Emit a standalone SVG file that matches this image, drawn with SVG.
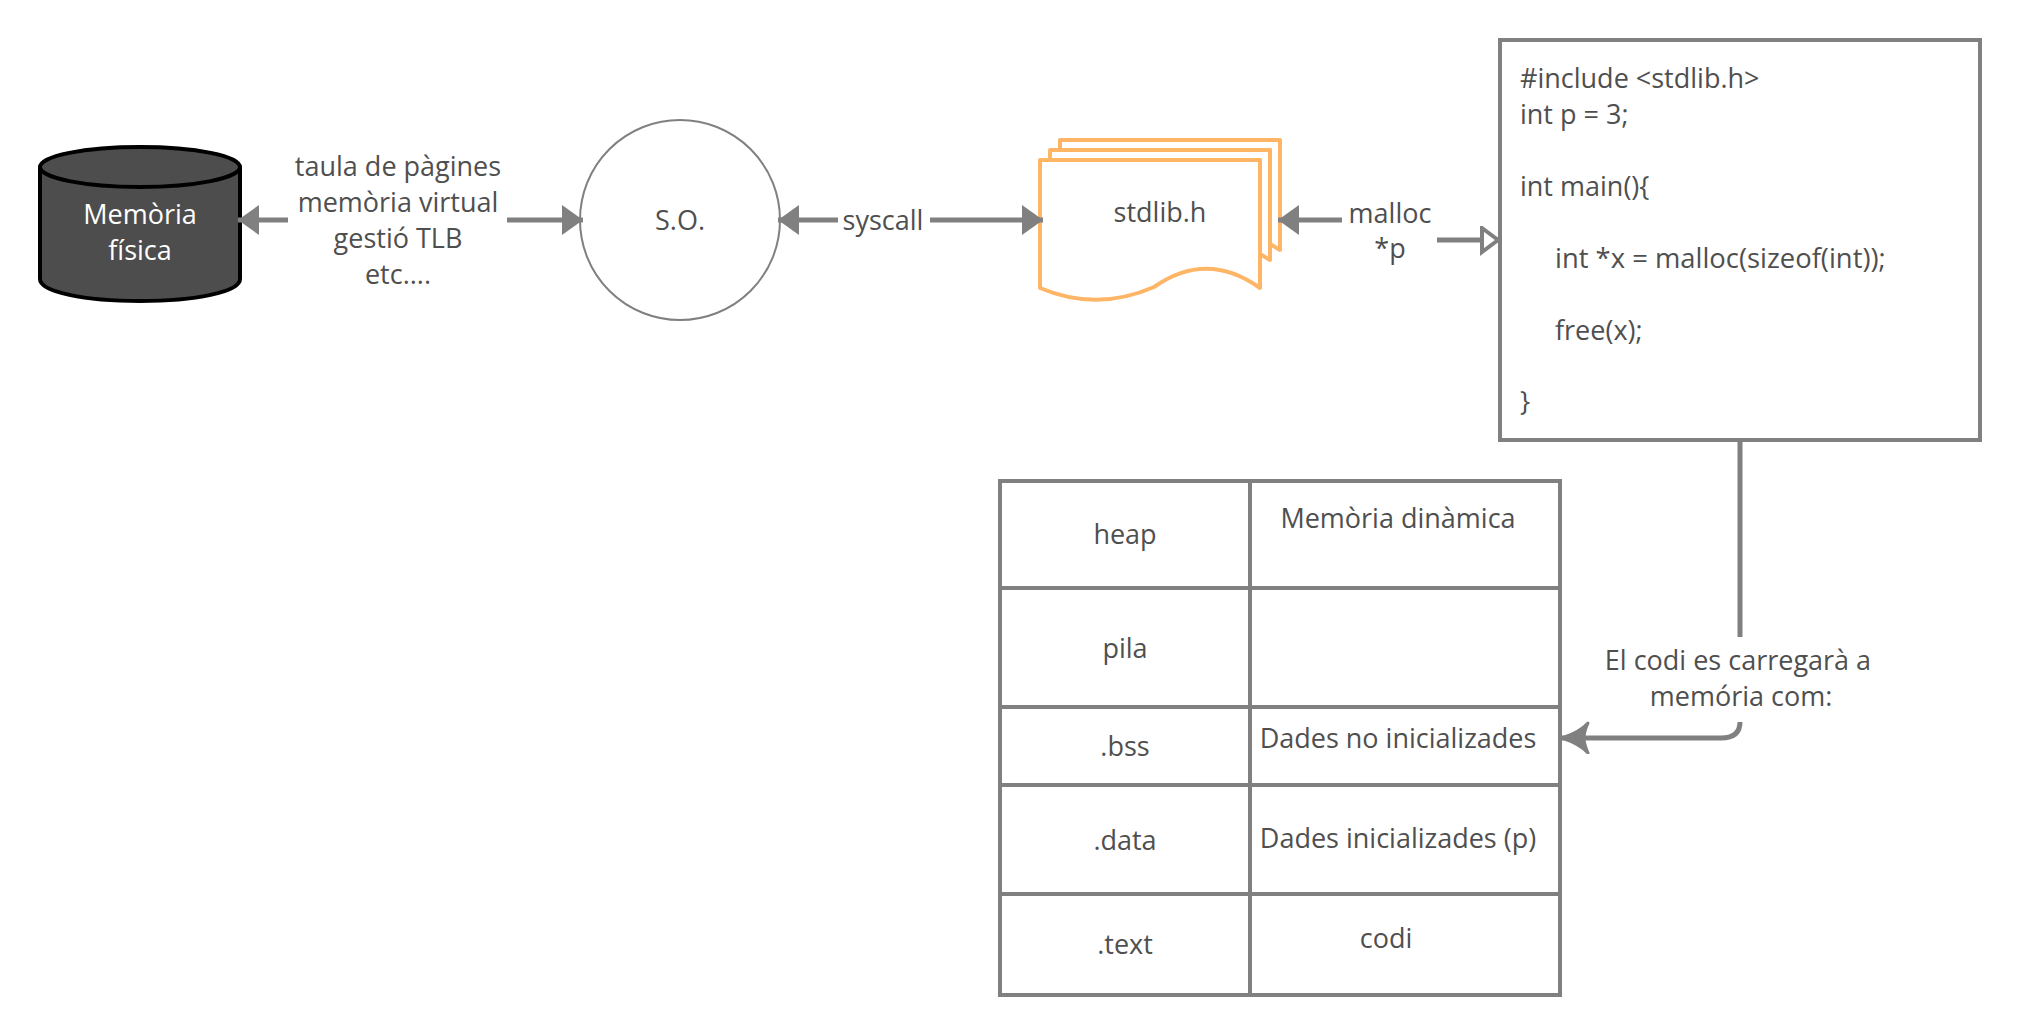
<svg xmlns="http://www.w3.org/2000/svg" width="2021" height="1036" viewBox="0 0 2021 1036">
<style>
text{font-family:"Open Sans","Noto Sans",sans-serif;font-size:27px;fill:#4f4f4f}
.m{text-anchor:middle}
.c{fill:none;stroke:#808080;stroke-width:5}
.b{fill:#fff;stroke:#808080;stroke-width:4}
.d{fill:#fff;stroke:#ffb566;stroke-width:4;stroke-linejoin:round}
</style>
<defs>
<marker id="f" markerUnits="userSpaceOnUse" markerWidth="22" markerHeight="30" refX="21" refY="15" orient="auto-start-reverse"><path d="M0 0L21 15L0 30Z" fill="#808080"/></marker>
<marker id="o" markerUnits="userSpaceOnUse" markerWidth="22" markerHeight="30" refX="20" refY="14" orient="auto"><path d="M2 2L18 14L2 26Z" fill="#fff" stroke="#808080" stroke-width="4"/></marker>
<marker id="v" markerUnits="userSpaceOnUse" markerWidth="30" markerHeight="34" refX="28" refY="16" orient="auto"><path d="M2 1Q10 10 28 16Q10 22 2 31Q6 22 6 16Q6 10 2 1Z" fill="#808080" stroke="#808080" stroke-width="3" stroke-linejoin="round"/></marker>
</defs>
<g id="memoria">
<path d="M40 167V279C40 292 85 301 140 301S240 292 240 279V167" fill="#4d4d4d" stroke="#000" stroke-width="4"/>
<ellipse cx="140" cy="167" rx="100" ry="20" fill="#4d4d4d" stroke="#000" stroke-width="4"/>
<text class="m" x="140" y="224" style="fill:#fff">Memòria</text>
<text class="m" x="140" y="260" style="fill:#fff">física</text>
</g>
<g id="label-taula">
<text class="m" x="398" y="176">taula de pàgines</text>
<text class="m" x="398" y="212">memòria virtual</text>
<text class="m" x="398" y="248">gestió TLB</text>
<text class="m" x="398" y="284">etc....</text>
</g>
<g id="so">
<circle cx="680" cy="220" r="100" fill="#fff" stroke="#808080" stroke-width="2"/>
<text class="m" x="680" y="230">S.O.</text>
</g>
<text class="m" x="883" y="230">syscall</text>
<g id="stdlib">
<path class="d" d="M1060 140H1280V250L1270 244V150H1060Z"/>
<path class="d" d="M1050 150H1270V260L1260 254V160H1050Z"/>
<path class="d" d="M1040 160H1260V288Q1207 250 1154 287Q1097 312 1040 288Z"/>
<text class="m" x="1160" y="222">stdlib.h</text>
</g>
<g id="label-malloc">
<text class="m" x="1390" y="223">malloc</text>
<text class="m" x="1390" y="258">*p</text>
</g>
<g id="code">
<rect class="b" x="1500" y="40" width="480" height="400"/>
<text x="1520" y="88">#include &lt;stdlib.h&gt;</text>
<text x="1520" y="124">int p = 3;</text>
<text x="1520" y="196">int main(){</text>
<text x="1555" y="268" style="font-size:27.4px">int *x = malloc(sizeof(int));</text>
<text x="1555" y="340">free(x);</text>
<text x="1520" y="411">}</text>
</g>
<g id="memory-table">
<rect class="b" x="1000" y="481" width="560" height="514"/>
<path class="b" d="M1250 481V995M1000 588H1560M1000 707H1560M1000 785H1560M1000 894H1560"/>
<text class="m" x="1125" y="544">heap</text>
<text class="m" x="1125" y="658">pila</text>
<text class="m" x="1125" y="756">.bss</text>
<text class="m" x="1125" y="850">.data</text>
<text class="m" x="1125" y="954">.text</text>
<text class="m" x="1398" y="528">Memòria dinàmica</text>
<text class="m" x="1398" y="748">Dades no inicializades</text>
<text class="m" x="1398" y="848">Dades inicializades (p)</text>
<text class="m" x="1386" y="948">codi</text>
</g>
<g id="label-codi">
<text class="m" x="1738" y="670">El codi es carregarà a</text>
<text class="m" x="1741" y="706">memória com:</text>
</g>
<g id="connectors">
<path class="c" d="M288 220H238" marker-end="url(#f)"/>
<path class="c" d="M507 220H583" marker-end="url(#f)"/>
<path class="c" d="M838 220H778" marker-end="url(#f)"/>
<path class="c" d="M930 220H1043" marker-end="url(#f)"/>
<path class="c" d="M1342 220H1278" marker-end="url(#f)"/>
<path class="c" d="M1437 240H1500" marker-end="url(#o)"/>
<path class="c" d="M1740 442V637"/>
<path class="c" d="M1740 722Q1740 738 1721 738H1562" marker-end="url(#v)"/>
</g>
</svg>
